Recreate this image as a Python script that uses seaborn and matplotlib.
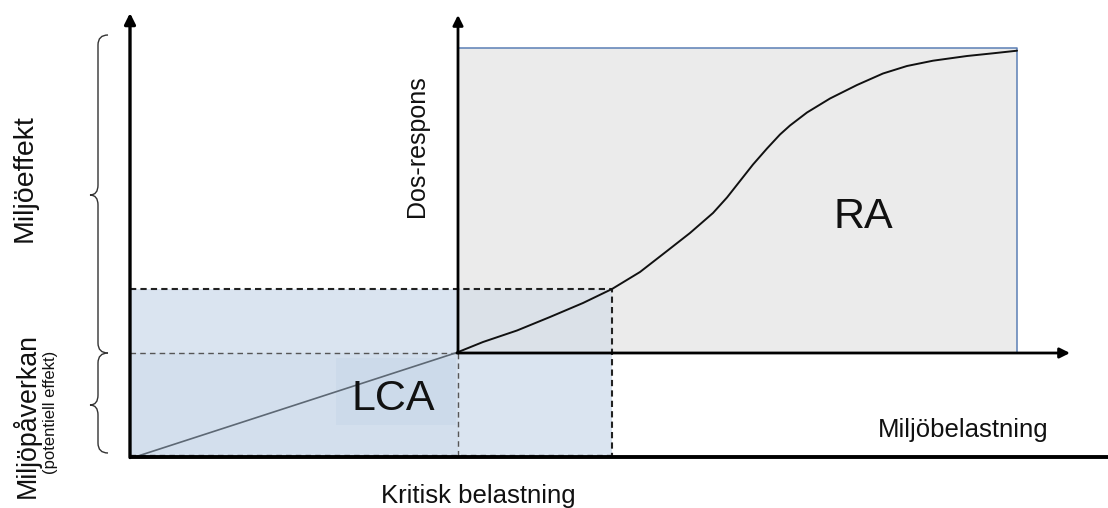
import matplotlib
matplotlib.use("Agg")
import matplotlib.pyplot as plt
from matplotlib.patches import Rectangle, PathPatch
from matplotlib.path import Path
import seaborn as sns
import pandas as pd

# ---------------- data (diagram units) ----------------
# dose-response curve (RA part)
dr_x = [327, 353, 387, 420, 453, 482, 510, 537, 560, 583, 597, 610, 623, 637,
        650, 660, 677, 700, 727, 753, 777, 803, 837, 863, 887]
dr_y = [103.5, 114, 125.5, 139, 153, 167, 184, 205, 223, 243, 258.5, 275, 291.5,
        307.5, 321.5, 330.5, 343.5, 357.5, 371, 382.5, 390, 395.3, 400, 402.7, 405.3]
# linear LCA characterisation line
lca_x = [8, 327]
lca_y = [0, 103.5]
# reference levels
origin2 = (328, 103)       # origin of the dose-response axes
critical_x = 482           # critical load
critical_y = 167
ra_top = 408.5
ra_right = 887
axis_top = 443
axis2_top = 441
axis2_right = 940
x_end = 978

# ---------------- figure ----------------
sns.set_theme(style="white")
plt.rcParams["font.family"] = ["Liberation Sans", "DejaVu Sans"]
plt.rcParams["text.color"] = "#111111"

fig = plt.figure(figsize=(11.08, 5.08), dpi=100)
ax = fig.add_axes([0, 0, 1, 1])

# RA grey box
ax.add_patch(Rectangle(origin2, ra_right - origin2[0], ra_top - origin2[1],
                       facecolor="#ebebeb", edgecolor="none", zorder=1))
ax.plot([origin2[0], ra_right, ra_right], [ra_top, ra_top, origin2[1]],
        color="#5b7fb5", lw=1.1, zorder=1.5)

# LCA blue boxes
blue = "#b8cce4"
ax.add_patch(Rectangle((0, 0), origin2[0], critical_y,
                       facecolor=blue, alpha=0.52, edgecolor="none", zorder=2))
ax.add_patch(Rectangle((origin2[0], 0), critical_x - origin2[0], origin2[1],
                       facecolor=blue, alpha=0.52, edgecolor="none", zorder=2))
ax.add_patch(Rectangle(origin2, critical_x - origin2[0], critical_y - origin2[1],
                       facecolor=blue, alpha=0.30, edgecolor="none", zorder=2))
ax.add_patch(Rectangle((0, 0), origin2[0], origin2[1],
                       facecolor=blue, alpha=0.18, edgecolor="none", zorder=2))
ax.add_patch(Rectangle((206, 31), 120, 67,
                       facecolor=blue, alpha=0.25, edgecolor="none", zorder=2))

# dashed guide lines
ax.plot([0, critical_x, critical_x], [critical_y, critical_y, 0],
        color="#222222", lw=1.5, ls=(0, (3.0, 2.0)), zorder=3)
ax.plot([0, origin2[0]], [origin2[1], origin2[1]],
        color="#555555", lw=1.0, ls=(0, (4.0, 3.0)), zorder=3)
ax.plot([origin2[0], origin2[0]], [0, origin2[1]],
        color="#555555", lw=1.0, ls=(0, (4.0, 3.0)), zorder=3)
ax.plot([0, critical_x], [1, 1], color="#555555", lw=1.0, ls=(0, (4.0, 3.0)), zorder=3)

# curves
df_dr = pd.DataFrame({"x": dr_x, "y": dr_y})
df_lca = pd.DataFrame({"x": lca_x, "y": lca_y})
sns.lineplot(data=df_lca, x="x", y="y", ax=ax, color="#5d6874", lw=1.2,
             sort=False, estimator=None, zorder=4)
sns.lineplot(data=df_dr, x="x", y="y", ax=ax, color="#111111", lw=1.4,
             sort=False, estimator=None, zorder=4, solid_joinstyle="round")

# axes
arrow = dict(arrowstyle="-|>", color="black", lw=2.4, mutation_scale=16,
             shrinkA=0, shrinkB=0)
ax.annotate("", xy=(0, axis_top), xytext=(0, -1.5), arrowprops=arrow, zorder=5)
ax.plot([-1, x_end], [-1, -1], color="black", lw=2.8, solid_capstyle="butt", zorder=5)
arrow2 = dict(arrowstyle="-|>", color="black", lw=2.0, mutation_scale=15,
              shrinkA=0, shrinkB=0)
ax.annotate("", xy=(origin2[0], axis2_top), xytext=origin2, arrowprops=arrow2, zorder=5)
ax.annotate("", xy=(axis2_right, origin2[1]), xytext=(origin2[0] - 1, origin2[1]),
            arrowprops=arrow2, zorder=5)


# braces
def brace(y0, y1, ym, xe=-22, xs=-32, xt=-40, r=10):
    verts = [(xe, y1), (xs, y1), (xs, y1 - r),
             (xs, ym + r),
             (xs, ym), (xt, ym),
             (xs, ym), (xs, ym - r),
             (xs, y0 + r),
             (xs, y0), (xe, y0)]
    codes = [Path.MOVETO, Path.CURVE3, Path.CURVE3,
             Path.LINETO,
             Path.CURVE3, Path.CURVE3,
             Path.CURVE3, Path.CURVE3,
             Path.LINETO,
             Path.CURVE3, Path.CURVE3]
    ax.add_patch(PathPatch(Path(verts, codes), facecolor="none",
                           edgecolor="#333333", lw=1.0, zorder=5))


brace(103, 421, 261)
brace(3, 103, 51)

# texts
ax.text(733, 228, "RA", fontsize=31, ha="center", va="baseline", zorder=6)
ax.text(263, 46, "LCA", fontsize=31, ha="center", va="baseline", zorder=6)
ax.text(348, -47, "Kritisk belastning", fontsize=18.5, ha="center", va="baseline")
ax.text(833, 19, "Miljöbelastning", fontsize=18.5, ha="center", va="baseline")
ax.text(287, 310, "Dos-respons", fontsize=18, rotation=90, ha="center", va="center")
ax.text(-105, 278, "Miljöeffekt", fontsize=20.5, rotation=90, ha="center", va="center")
ax.text(-104, 41, "Miljöpåverkan", fontsize=19.3, rotation=90, ha="center", va="center")
ax.text(-80, 44, "(potentiell effekt)", fontsize=12, rotation=90, ha="center", va="center")

ax.set_xlim(-130, 978)
ax.set_ylim(-52, 456)
ax.axis("off")

fig.savefig("out.png", dpi=100)
